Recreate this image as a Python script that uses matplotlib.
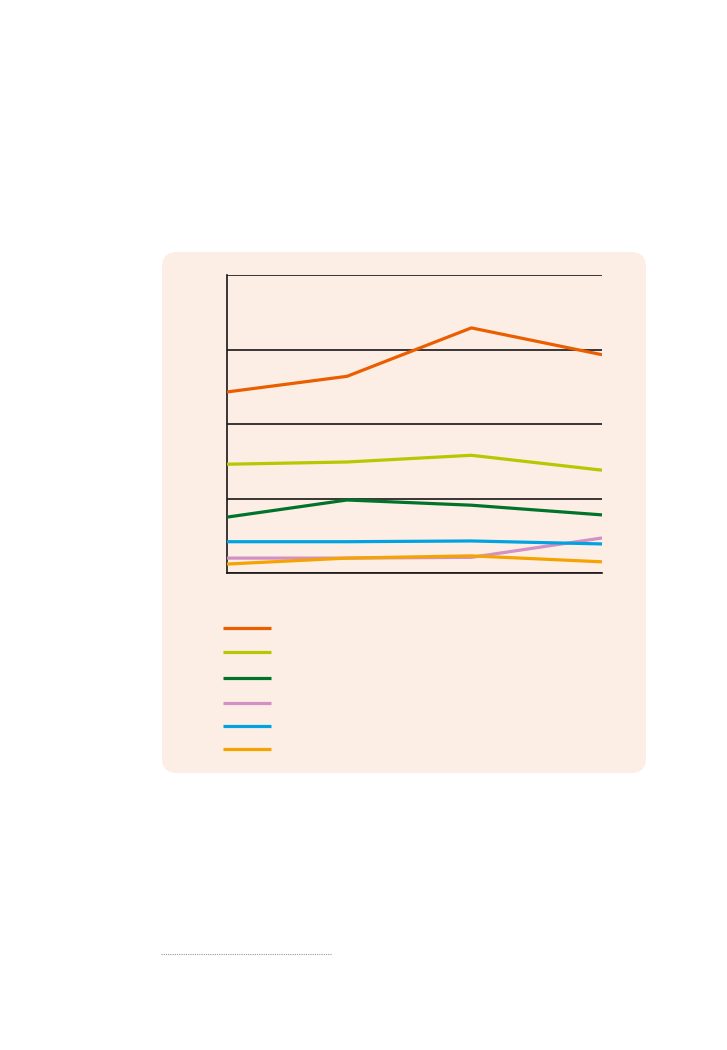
import matplotlib
matplotlib.use("Agg")
import matplotlib.pyplot as plt
from matplotlib.patches import FancyBboxPatch
from matplotlib.lines import Line2D

# Data (axis 0-40, x positions as read)
periods = [0, 0.96, 1.955, 3]
series_a = [24.3, 26.4, 32.9, 29.3]   # orange
series_b = [14.6, 14.9, 15.8, 13.8]   # yellow-green
series_c = [7.5, 9.8, 9.1, 7.8]       # dark green
series_d = [2.0, 2.0, 2.1, 4.7]       # pink
series_e = [4.2, 4.2, 4.3, 3.9]       # blue
series_f = [1.2, 2.0, 2.3, 1.5]       # amber
y_ticks = [0, 10, 20, 30, 40]

series = [series_a, series_b, series_c, series_d, series_e, series_f]
colors = ["#EB5E00", "#B5C800", "#00732B", "#D390C4", "#00A3E0", "#F5A300"]

fig = plt.figure(figsize=(7.27, 10.5), dpi=100)
fig.patch.set_facecolor("white")

# rounded background panel
bg = FancyBboxPatch((1.62, 2.77), 4.84, 5.21,
                    boxstyle="round,pad=0,rounding_size=0.15",
                    transform=fig.dpi_scale_trans, facecolor="#FCEEE5",
                    edgecolor="none", zorder=0)
fig.add_artist(bg)

ax = fig.add_axes([227/727, 1-573/1050, (602-227)/727, (573-275)/1050])
ax.set_facecolor("none")
for s, c in zip(series, colors):
    ax.plot(periods, s, color=c, lw=2.3, solid_capstyle="butt", zorder=3)

ax.set_xlim(0, 3)
ax.set_ylim(0, 40)
ax.set_yticks(y_ticks)
ax.yaxis.grid(True, color="#1A1718", lw=1.2)
ax.set_axisbelow(True)
ax.tick_params(left=False, bottom=False, labelleft=False, labelbottom=False)
for side in ["top", "right"]:
    ax.spines[side].set_visible(False)
ax.spines["left"].set_color("#1A1718")
ax.spines["left"].set_linewidth(1.2)
ax.spines["bottom"].set_color("#1A1718")
ax.spines["bottom"].set_linewidth(1.2)

# legend swatches (no text in reference)
leg_y = [628, 652, 678, 703, 726, 749]
for y, c in zip(leg_y, colors):
    fig.add_artist(Line2D([223/727, 271/727], [1-y/1050, 1-y/1050],
                          transform=fig.transFigure, color=c, lw=2.3,
                          solid_capstyle="butt"))

# dotted footnote rule
fig.add_artist(Line2D([1.61, 3.32], [0.96, 0.96], transform=fig.dpi_scale_trans,
                      color="#9A9A9A", lw=0.8, linestyle=(0, (1, 1))))

fig.savefig("out.png", dpi=100)
